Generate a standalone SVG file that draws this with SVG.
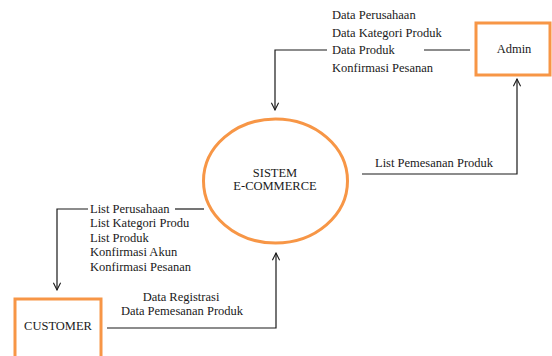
<svg xmlns="http://www.w3.org/2000/svg" width="552" height="356" viewBox="0 0 552 356">
<defs>
<style>
text{font-family:'Liberation Serif',serif;font-size:12.5px;fill:#1a1a1a}
.box{fill:#fff;stroke:#F79646;stroke-width:3}
.ln{fill:none;stroke:#1a1a1a;stroke-width:1.2}
</style>
<marker id="ah" viewBox="0 0 10 10" refX="9" refY="5" markerWidth="9" markerHeight="9" orient="auto" markerUnits="userSpaceOnUse">
<path d="M1,1 L9,5 L1,9" fill="none" stroke="#1a1a1a" stroke-width="1.2"/>
</marker>
</defs>
<rect width="552" height="356" fill="#fff"/>
<g id="connectors">
<polyline class="ln" points="470,50 424,50"/>
<polyline class="ln" points="327,50 275,50 275,110" marker-end="url(#ah)"/>
<polyline class="ln" points="362,174 517,174 517,79" marker-end="url(#ah)"/>
<polyline class="ln" points="204,209 175,209"/>
<polyline class="ln" points="88,209 57,209 57,290" marker-end="url(#ah)"/>
<polyline class="ln" points="107,328 276,328 276,253" marker-end="url(#ah)"/>
<g id="labels">
<text x="332" y="19">Data Perusahaan</text>
<text x="332" y="37">Data Kategori Produk</text>
<text x="332" y="54">Data Produk</text>
<text x="332" y="72">Konfirmasi Pesanan</text>
<text x="375" y="167">List Pemesanan Produk</text>
<text x="90" y="213">List Perusahaan</text>
<text x="90" y="227">List Kategori Produ</text>
<text x="90" y="242">List Produk</text>
<text x="90" y="256">Konfirmasi Akun</text>
<text x="90" y="271">Konfirmasi Pesanan</text>
<text x="181" y="301" text-anchor="middle">Data Registrasi</text>
<text x="182" y="315" text-anchor="middle">Data Pemesanan Produk</text>
</g>
</g>
<g id="admin">
<rect class="box" x="476" y="23" width="74" height="52"/>
<text x="514" y="53" text-anchor="middle">Admin</text>
</g>
<g id="sistem">
<ellipse class="box" cx="275.5" cy="181" rx="72" ry="62"/>
<text x="275" y="177" text-anchor="middle">SISTEM</text>
<text x="275" y="190" text-anchor="middle">E-COMMERCE</text>
</g>
<g id="customer">
<rect class="box" x="15" y="299" width="86" height="62"/>
<text x="58" y="330" text-anchor="middle">CUSTOMER</text>
</g>
</svg>
